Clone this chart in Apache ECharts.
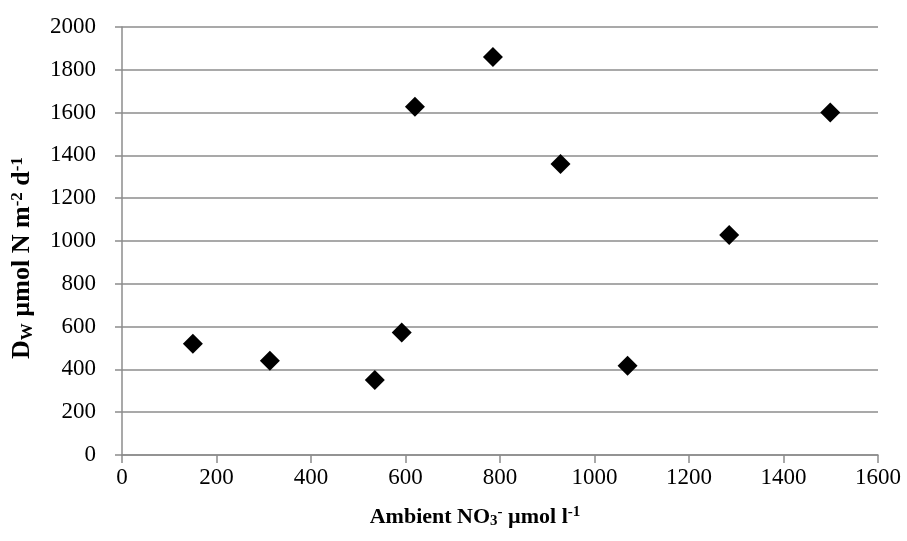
<!DOCTYPE html>
<html>
<head>
<meta charset="utf-8">
<script src="https://cdn.jsdelivr.net/npm/echarts@6/dist/echarts.min.js"></script>
<style>
  html, body { margin: 0; padding: 0; background: #fff; }
  #main { width: 907px; height: 541px; }
</style>
</head>
<body>
<div id="main"></div>
<script>
// ambient nitrate (µmol/l) vs denitrification rate
var nitrate = [150, 313, 535, 592, 620, 785, 928, 1070, 1285, 1499];
var dwRate  = [520, 440, 350, 573, 1627, 1860, 1360, 417, 1028, 1600];

var points = nitrate.map(function (x, i) { return [x, dwRate[i]]; });

var myChart = echarts.init(document.getElementById('main'));
var font = '"Liberation Serif", "Times New Roman", serif';
var gray = '#8c8c8c';

function titleRich(size, small, shift) {
    return {
        b: { fontFamily: font, fontWeight: 'bold', fontSize: size, color: '#000' },
        sub: { fontFamily: font, fontWeight: 'bold', fontSize: small, color: '#000', verticalAlign: 'bottom', padding: [shift, 0, 0, 0] },
        sup: { fontFamily: font, fontWeight: 'bold', fontSize: small, color: '#000', verticalAlign: 'top', padding: [0, 0, shift, 0] }
    };
}
var plain = function (v) { return String(v); };

var option = {
    animation: false,
    grid: { left: 122, right: 29, top: 27, bottom: 86, containLabel: false, outerBoundsMode: 'none' },
    xAxis: {
        type: 'value',
        min: 0, max: 1600, interval: 200,
        name: '{b|Ambient NO}{sub|3}{sup|-}{b| µmol l}{sup|-1}',
        nameLocation: 'middle',
        nameGap: 50,
        nameTextStyle: { rich: titleRich(22, 15, 9), padding: [0, 50, 0, 0] },
        axisLine: { lineStyle: { color: gray, width: 1.5 } },
        axisTick: { show: true, length: 8, lineStyle: { color: gray, width: 1.5 } },
        axisLabel: { fontFamily: font, fontSize: 23, color: '#000', margin: 11, formatter: plain },
        splitLine: { show: false }
    },
    yAxis: {
        type: 'value',
        min: 0, max: 2000, interval: 200,
        name: '{b|D}{sub|W}{b| µmol N m}{sup|-2}{b| d}{sup|-1}',
        nameLocation: 'middle',
        nameRotate: 90,
        nameGap: 86,
        nameTextStyle: { rich: titleRich(26, 17, 10), padding: [0, 34, 0, 0] },
        axisLine: { show: true, lineStyle: { color: gray, width: 1.5 } },
        axisTick: { show: true, length: 7, lineStyle: { color: gray, width: 1.5 } },
        axisLabel: { fontFamily: font, fontSize: 23, color: '#000', margin: 26, formatter: plain },
        splitLine: { show: true, lineStyle: { color: gray, width: 1.5 } }
    },
    series: [{
        type: 'scatter',
        symbol: 'diamond',
        symbolSize: 20,
        itemStyle: { color: '#000', opacity: 1 },
        data: points
    }]
};

myChart.setOption(option);
</script>
</body>
</html>
